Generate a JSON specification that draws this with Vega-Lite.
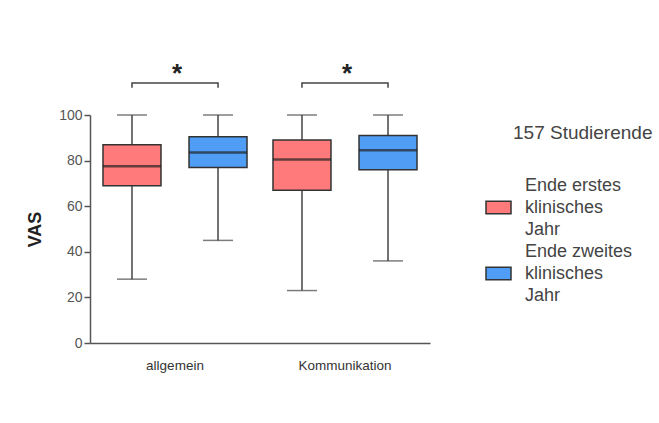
{
  "$schema": "https://vega.github.io/schema/vega-lite/v6.json",
  "width": 340,
  "height": 228,
  "autosize": {"type": "none"},
  "padding": {"left": 90, "top": 115, "right": 229, "bottom": 80},
  "background": "white",
  "title": {"text": "157 Studierende", "anchor": "start", "frame": "group", "orient": "top", "dx": 423, "dy": 91, "offset": 0, "baseline": "middle", "font": "Liberation Sans", "fontSize": 19, "fontWeight": "normal", "color": "#444444"},
  "config": {
    "view": {"stroke": null},
    "font": "Liberation Sans"
  },
  "datasets": {
    "boxes": [
      {"cat": "allgemein", "grp": "Ende erstes klinisches Jahr", "lo": 28, "q1": 69, "med": 77.5, "q3": 87, "hi": 100},
      {"cat": "allgemein", "grp": "Ende zweites klinisches Jahr", "lo": 45, "q1": 77, "med": 83.5, "q3": 90.5, "hi": 100},
      {"cat": "Kommunikation", "grp": "Ende erstes klinisches Jahr", "lo": 23, "q1": 67, "med": 80.5, "q3": 89, "hi": 100},
      {"cat": "Kommunikation", "grp": "Ende zweites klinisches Jahr", "lo": 36, "q1": 76, "med": 84.5, "q3": 91, "hi": 100}
    ],
    "brackets": [
      {"cat": "allgemein", "grp": "Ende erstes klinisches Jahr", "y": 112, "o": 1},
      {"cat": "allgemein", "grp": "Ende erstes klinisches Jahr", "y": 114, "o": 2},
      {"cat": "allgemein", "grp": "Ende zweites klinisches Jahr", "y": 114, "o": 3},
      {"cat": "allgemein", "grp": "Ende zweites klinisches Jahr", "y": 112, "o": 4},
      {"cat": "Kommunikation", "grp": "Ende erstes klinisches Jahr", "y": 112, "o": 1},
      {"cat": "Kommunikation", "grp": "Ende erstes klinisches Jahr", "y": 114, "o": 2},
      {"cat": "Kommunikation", "grp": "Ende zweites klinisches Jahr", "y": 114, "o": 3},
      {"cat": "Kommunikation", "grp": "Ende zweites klinisches Jahr", "y": 112, "o": 4}
    ],
    "stars": [
      {"cat": "allgemein", "y": 114.5, "label": "*"},
      {"cat": "Kommunikation", "y": 114.5, "label": "*"}
    ]
  },
  "encoding": {
    "x": {
      "field": "cat", "type": "nominal", "sort": ["allgemein", "Kommunikation"],
      "scale": {"domain": ["allgemein", "Kommunikation"], "paddingInner": 0, "paddingOuter": 0},
      "axis": {"title": null, "labelAngle": 0, "ticks": false, "labelPadding": 15, "labelFontSize": 13.5, "labelColor": "#333333", "domainColor": "#555555", "domainWidth": 1.5}
    }
  },
  "layer": [
    {
      "data": {"name": "boxes"},
      "mark": {"type": "rule", "color": "#444444", "strokeWidth": 1.5},
      "encoding": {
        "xOffset": {"field": "grp", "type": "nominal", "scale": {"domain": ["Ende erstes klinisches Jahr", "Ende zweites klinisches Jahr"], "paddingInner": 0.326, "paddingOuter": 0.151}},
        "y": {"field": "lo", "type": "quantitative", "scale": {"domain": [0, 100], "nice": false},
          "axis": {"values": [0, 20, 40, 60, 80, 100], "grid": false, "title": "VAS", "titleFontSize": 18, "titleFontWeight": "bold", "titleColor": "#222222", "titlePadding": 14, "labelFontSize": 14, "labelColor": "#555555", "tickColor": "#555555", "tickWidth": 1.5, "tickSize": 6, "domainColor": "#555555", "domainWidth": 1.5}},
        "y2": {"field": "hi"}
      }
    },
    {
      "data": {"name": "boxes"},
      "mark": {"type": "tick", "color": "#444444", "thickness": 1.5, "size": 30},
      "encoding": {
        "xOffset": {"field": "grp", "type": "nominal"},
        "y": {"field": "lo", "type": "quantitative"}
      }
    },
    {
      "data": {"name": "boxes"},
      "mark": {"type": "tick", "color": "#444444", "thickness": 1.5, "size": 30},
      "encoding": {
        "xOffset": {"field": "grp", "type": "nominal"},
        "y": {"field": "hi", "type": "quantitative"}
      }
    },
    {
      "data": {"name": "boxes"},
      "mark": {"type": "bar", "stroke": "#333333", "strokeWidth": 1.5, "opacity": 1},
      "encoding": {
        "xOffset": {"field": "grp", "type": "nominal"},
        "y": {"field": "q1", "type": "quantitative"},
        "y2": {"field": "q3"},
        "color": {
          "field": "grp", "type": "nominal",
          "scale": {"domain": ["Ende erstes klinisches Jahr", "Ende zweites klinisches Jahr"], "range": ["#FF7B7B", "#4F9DF5"]},
          "legend": {
            "title": null, "orient": "none", "legendX": 395, "legendY": 79,
            "padding": 0, "rowPadding": 3,
            "symbolType": "M-1,-0.5H1V0.5H-1Z", "symbolSize": 625, "symbolStrokeColor": "#333333", "symbolStrokeWidth": 1.5, "symbolOpacity": 1,
            "labelOffset": 13, "labelFontSize": 18, "labelColor": "#444444", "labelLimit": 300,
            "labelExpr": "split(replace(datum.label, ' klinisches ', '|klinisches|'), '|')",
            "encode": {"labels": {"update": {"lineHeight": {"value": 22}, "dy": {"value": -22}}}}
          }
        }
      }
    },
    {
      "data": {"name": "boxes"},
      "mark": {"type": "tick", "color": "#222222", "thickness": 2.5, "size": 58},
      "encoding": {
        "xOffset": {"field": "grp", "type": "nominal"},
        "y": {"field": "med", "type": "quantitative"}
      }
    },
    {
      "data": {"name": "brackets"},
      "mark": {"type": "line", "color": "#444444", "strokeWidth": 1.5},
      "encoding": {
        "xOffset": {"field": "grp", "type": "nominal"},
        "y": {"field": "y", "type": "quantitative"},
        "detail": {"field": "cat"},
        "order": {"field": "o", "type": "quantitative"}
      }
    },
    {
      "data": {"name": "stars"},
      "mark": {"type": "text", "fontSize": 26, "fontWeight": "bold", "color": "#222222", "baseline": "alphabetic", "dx": 2},
      "encoding": {
        "y": {"field": "y", "type": "quantitative"},
        "text": {"field": "label"}
      }
    }
  ]
}
